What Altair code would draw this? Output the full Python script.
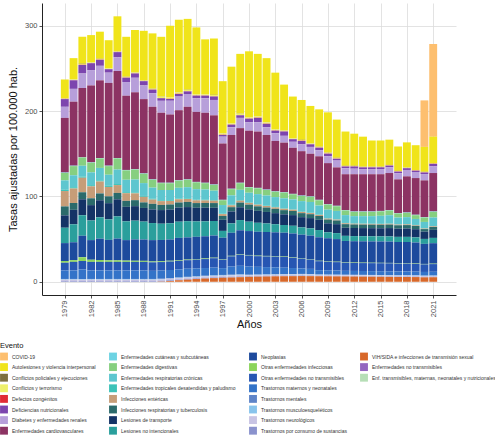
import altair as alt
import pandas as pd

anios = list(range(1979, 2022))
marcas_x = [1979, 1982, 1985, 1988, 1991, 1994, 1997, 2000, 2003, 2006, 2009, 2012, 2015, 2018, 2021]
marcas_y = [0, 100, 200, 300]

# Tasas por evento, 1979-2021 (una cifra por año)
covid = [0, 0, 0, 0, 0, 0, 0, 0, 0, 0, 0,
         0, 0, 0, 0, 0, 0, 0, 0, 0, 0,
         0, 0, 0, 0, 0, 0, 0, 0, 0, 0,
         0, 0, 0, 0, 0, 0, 0, 0, 0, 0, 54.5, 108.6]
autolesiones = [21.7, 24.7, 31.7, 31.7, 31.7, 32.7, 40.7, 46.7, 49.7, 57.7, 64.7,
                70, 84, 85, 83, 78, 64, 66, 61, 66, 70,
                77, 73, 75, 66, 53.7, 48.7, 46.7, 43.7, 43.7, 47.2,
                44.7, 40.1, 37.6, 35.1, 30.6, 30.6, 29.6, 28.6, 29.4, 29.1, 29.1, 31.1]
conflictos_policiales = [0.2, 0.2, 0.2, 0.2, 0.2, 0.2, 0.2, 0.2, 0.2, 0.2, 0.2,
                         0.2, 0.2, 0.2, 0.2, 0.2, 0.2, 0.2, 0.2, 0.2, 0.2,
                         0.2, 0.2, 0.2, 0.2, 0.2, 0.2, 0.2, 0.2, 0.2, 0.2,
                         0.2, 0.2, 0.2, 0.2, 0.2, 0.2, 0.2, 0.2, 0.2, 0.2, 0.2, 0.2]
conflictos_terrorismo = [0.8, 0.8, 0.8, 0.8, 0.8, 0.8, 0.8, 0.8, 0.8, 0.8, 0.8,
                         1.5, 1.5, 1.5, 1.5, 1.5, 1.5, 1.5, 1.5, 1.5, 1.5,
                         1.5, 1.5, 1.5, 1.5, 0.8, 0.8, 0.8, 0.8, 0.8, 0.8,
                         0.8, 0.4, 0.4, 0.4, 0.4, 0.4, 0.4, 0.4, 0.4, 0.4, 0.4, 0.4]
defectos = [0.3, 0.3, 0.3, 0.3, 0.3, 0.3, 0.3, 0.3, 0.3, 0.3, 0.3,
            0.3, 0.3, 0.3, 0.3, 0.3, 0.3, 0.3, 0.3, 0.3, 0.3,
            0.3, 0.3, 0.3, 0.3, 0.3, 0.3, 0.3, 0.3, 0.3, 0.3,
            0.3, 0.3, 0.3, 0.3, 0.3, 0.3, 0.3, 0.3, 0.3, 0.3, 0.3, 0.3]
deficiencias = [9, 10, 10, 8, 7, 4, 6, 5, 5, 5, 4,
                3, 2, 3, 3, 3, 3, 4, 2, 3, 3,
                4, 5, 4, 3, 5, 3, 4, 3, 3, 3,
                2, 2, 2.5, 2, 2, 2, 2, 2, 2, 1.4, 1.8, 2.8]
diabetes = [13, 15, 17, 18, 17, 12, 16, 16, 17, 16, 16,
            14, 16, 16, 15, 16, 17, 18, 8, 9, 12,
            10, 11, 9, 9, 8, 7, 8, 8, 7, 8,
            8, 7, 6.5, 6, 6, 6, 6.6, 7, 7.5, 7.1, 7.4, 7.8]
cardiovasculares = [64, 75, 81, 90, 91, 97, 102, 87, 90, 87, 85,
                    82, 80, 82, 85, 82, 82, 81, 66, 63, 64,
                    66, 66, 64, 59, 58, 54, 52, 50, 51, 48,
                    45, 42, 43.6, 43.6, 43.6, 43, 43.4, 39.5, 42.3, 43, 43, 45]
cutaneas = [0.5, 0.5, 0.5, 0.5, 0.5, 0.5, 0.5, 0.5, 0.5, 0.5, 0.5,
            0.5, 0.5, 0.5, 0.5, 0.5, 0.5, 0.5, 0.5, 0.5, 0.5,
            0.5, 0.5, 0.5, 0.5, 0.5, 0.5, 0.5, 0.5, 0.5, 0.5,
            0.5, 0.5, 0.5, 0.5, 0.5, 0.5, 0.5, 0.5, 0.5, 0.5, 0.5, 0.5]
digestivas = [8.7, 10.7, 9.7, 11.3, 11.1, 10.1, 13, 11, 11.7, 10.9, 9.2,
              8, 8, 8.4, 8.7, 8, 7.4, 6.8, 5.6, 7.2, 7.8,
              6.2, 6.8, 6.5, 6.3, 6.7, 6.0, 6.0, 6.0, 6.2, 6.0,
              5.5, 5.4, 5, 5, 5, 5.2, 5.5, 4.8, 5, 4.4, 5.2, 6.6]
resp_cronicas = [11, 14, 12.5, 15, 14.5, 13, 17, 14.5, 15, 15, 13,
                 12, 12, 12.5, 13, 12.3, 12, 11, 10, 11, 12,
                 11.3, 11.8, 11.6, 11.5, 11.8, 11.6, 12.2, 12.5, 10.5, 10,
                 9.8, 9.2, 8.5, 8.6, 8.7, 9.2, 9.7, 7.8, 8.1, 7, 7.5, 10]
tropicales = [1.5, 1.5, 1.5, 1.4, 1.4, 1.3, 1.2, 1.2, 1.2, 1.1, 1.0,
              1.0, 0.9, 0.9, 0.8, 0.8, 0.8, 0.7, 0.6, 0.7, 0.7,
              0.6, 0.6, 0.6, 0.6, 0.5, 0.5, 0.5, 0.5, 0.5, 0.5,
              0.4, 0.4, 0.4, 0.4, 0.4, 0.4, 0.4, 0.4, 0.4, 0.4, 0.3, 0.4]
entericas = [18, 17, 17, 14, 14, 11, 9.2, 9, 8, 6.5, 5,
             4.5, 4, 3.8, 3.5, 3.2, 3, 2.8, 2.2, 2.2, 2.2,
             2.0, 1.9, 1.8, 1.7, 1.6, 1.5, 1.4, 1.3, 1.2, 1.1,
             1.0, 1.0, 0.9, 0.9, 0.9, 0.9, 0.9, 0.8, 0.8, 0.7, 0.6, 0.7]
inf_respiratorias = [10.5, 8, 8, 8, 8, 8, 7.5, 7, 7, 6.5, 6.5,
                     6, 6, 6, 6, 5.5, 5.5, 5.5, 4.5, 5, 5.5,
                     5.5, 5.3, 5.2, 5.0, 4.9, 4.8, 4.7, 4.6, 4.5, 4.4,
                     4.3, 4.2, 4.1, 4.1, 4.1, 4.1, 4.1, 4.0, 4.0, 3.9, 3.0, 3.4]
transporte = [14.5, 17, 19, 18, 20, 19, 20, 17, 17, 16, 16,
              16, 16, 16.5, 16.5, 16, 16, 15.5, 13, 14, 15,
              14.5, 14, 13.5, 13, 12.5, 12.5, 12, 12, 12, 10.5,
              10.5, 9.5, 9.5, 9.5, 9.5, 9.5, 9.8, 9.6, 9.8, 9.6, 8.5, 9.4]
no_intencionales = [18, 21, 24, 23, 25, 24, 26, 22, 22, 21, 20,
                    19, 19, 19, 19, 18, 17.5, 17, 8, 11, 12,
                    11, 10.5, 10, 9.5, 9, 9, 8.5, 8.5, 8.5, 7,
                    7, 6, 6, 6, 6, 6, 6, 6, 6, 6, 5.8, 6.2]
neoplasias = [21, 21, 25, 23, 25, 24, 25.5, 24, 25, 25, 25,
              25, 25, 26, 26, 26, 26, 26, 25, 27, 28,
              28, 28, 28, 28, 28, 28, 27.5, 27.5, 27.5, 27,
              26.5, 25, 25, 25, 25, 25, 25, 24.8, 24.8, 24.5, 23.5, 24]
otras_infecciosas = [2, 2, 4.5, 2.5, 2.2, 1.8, 1.8, 1.5, 1.3, 1.2, 1.0,
                     0.9, 0.8, 0.8, 0.7, 0.7, 0.7, 0.6, 0.6, 0.6, 0.6,
                     0.6, 0.6, 0.6, 0.5, 0.5, 0.5, 0.5, 0.5, 0.5, 0.5,
                     0.5, 0.5, 0.5, 0.5, 0.5, 0.5, 0.5, 0.5, 0.5, 0.5, 0.5, 0.5]
otras_no_transmisibles = [9, 10, 10, 10, 10, 10, 10, 10, 10, 10, 10,
                          10, 10, 10, 10, 10.5, 10.5, 11, 10, 12, 13,
                          13, 12.5, 12.5, 12.5, 12.5, 12, 11.5, 11, 10.5, 10,
                          9.8, 9.5, 9.3, 9.3, 9.3, 9.3, 9.3, 9.2, 9.2, 9.1, 8.9, 9]
maternos = [10, 10, 11, 10, 10, 10, 10, 10, 10, 10, 9.5,
            9.5, 9.5, 9.5, 9.5, 9, 9, 9, 8, 9.5, 10,
            9.5, 9, 8.5, 8, 7.5, 7, 6.5, 6, 5, 5,
            4.8, 4.5, 4.5, 4.5, 4.5, 4.5, 4.5, 4.4, 4.4, 4.3, 4.2, 4.3]
mentales = [0.4, 0.4, 0.4, 0.4, 0.4, 0.4, 0.4, 0.4, 0.4, 0.4, 0.4,
            0.4, 0.4, 0.4, 0.4, 0.4, 0.4, 0.4, 0.4, 0.4, 0.4,
            0.3, 0.3, 0.3, 0.3, 0.3, 0.3, 0.3, 0.3, 0.3, 0.3,
            0.3, 0.3, 0.3, 0.3, 0.3, 0.3, 0.3, 0.3, 0.3, 0.3, 0.3, 0.3]
musculoesqueleticos = [0.5, 0.5, 0.5, 0.5, 0.5, 0.5, 0.5, 0.5, 0.5, 0.5, 0.5,
                       0.5, 0.5, 0.5, 0.5, 0.5, 0.5, 0.5, 0.5, 0.5, 0.5,
                       0.4, 0.4, 0.4, 0.4, 0.4, 0.4, 0.4, 0.4, 0.3, 0.3,
                       0.3, 0.3, 0.3, 0.3, 0.3, 0.3, 0.3, 0.3, 0.3, 0.3, 0.3, 0.3]
neurologicos = [1.6, 1.6, 1.6, 1.6, 1.6, 1.6, 1.6, 1.6, 1.6, 1.6, 1.6,
                1.6, 1.6, 1.6, 1.6, 1.6, 1.6, 1.6, 1.6, 1.6, 1.6,
                1.2, 1.2, 1.2, 1.2, 1.2, 1.2, 1.2, 1.2, 1.0, 1.0,
                1.0, 1.0, 1.0, 1.0, 1.0, 1.0, 1.0, 1.0, 1.0, 1.0, 1.0, 1.0]
sustancias = [0.8, 0.8, 0.8, 0.8, 0.8, 0.8, 0.8, 0.8, 0.8, 0.8, 0.8,
              0.8, 0.8, 0.8, 0.8, 0.8, 0.8, 0.8, 0.8, 0.8, 0.8,
              0.6, 0.6, 0.6, 0.6, 0.6, 0.6, 0.6, 0.6, 0.5, 0.5,
              0.5, 0.5, 0.5, 0.5, 0.5, 0.5, 0.5, 0.5, 0.5, 0.5, 0.5, 0.5]
vih = [0, 0, 0, 0, 0, 0, 0, 0, 0, 0, 0,
       0.3, 1.0, 1.8, 2.5, 3.2, 3.8, 4.3, 4.7, 5.0, 5.4,
       5.8, 6.0, 6.2, 6.4, 6.5, 6.6, 6.7, 6.6, 6.5, 6.4,
       6.3, 6.2, 6.1, 6.0, 5.9, 5.8, 5.7, 5.6, 5.6, 5.5, 5.2, 5.3]

# Eventos en el orden de la leyenda, con su color
eventos = [
    "COVID-19", "Autolesiones y violencia interpersonal", "Conflictos policiales y ejecuciones",
    "Conflictos y terrorismo", "Defectos congénitos", "Deficiencias nutricionales",
    "Diabetes y enfermedades renales", "Enfermedades cardiovasculares",
    "Enfermedades cutáneas y subcutáneas", "Enfermedades digestivas",
    "Enfermedades respiratorias crónicas", "Enfermedades tropicales desatendidas y paludismo",
    "Infecciones entéricas", "Infecciones respiratorias y tuberculosis",
    "Lesiones de transporte", "Lesiones no intencionales",
    "Neoplasias", "Otras enfermedades infecciosas", "Otras enfermedades no transmisibles",
    "Trastornos maternos y neonatales", "Trastornos mentales", "Trastornos musculoesqueléticos",
    "Trastornos neurológicos", "Trastornos por consumo de sustancias",
    "VIH/SIDA e infecciones de transmisión sexual", "Enfermedades no transmisibles",
    "Enf. transmisibles, maternas, neonatales y nutricionales",
]
colores = [
    "#fdbf6f", "#f0e41a", "#7d7040", "#eef06a", "#e02b35", "#7c45ae", "#b79fda", "#8c3363",
    "#6dd3e3", "#86cf80", "#5dc6cf", "#3cc2b8", "#c69d78", "#2b6a6b", "#143366", "#2a9f9c",
    "#1d4a9d", "#8bd45b", "#2756b3", "#3373c8", "#5e84c8", "#88c4ec", "#c8c4e4", "#8a92cd",
    "#d8682a", "#9466c0", "#b6deb6",
]

series = {
    "COVID-19": covid,
    "Autolesiones y violencia interpersonal": autolesiones,
    "Conflictos policiales y ejecuciones": conflictos_policiales,
    "Conflictos y terrorismo": conflictos_terrorismo,
    "Defectos congénitos": defectos,
    "Deficiencias nutricionales": deficiencias,
    "Diabetes y enfermedades renales": diabetes,
    "Enfermedades cardiovasculares": cardiovasculares,
    "Enfermedades cutáneas y subcutáneas": cutaneas,
    "Enfermedades digestivas": digestivas,
    "Enfermedades respiratorias crónicas": resp_cronicas,
    "Enfermedades tropicales desatendidas y paludismo": tropicales,
    "Infecciones entéricas": entericas,
    "Infecciones respiratorias y tuberculosis": inf_respiratorias,
    "Lesiones de transporte": transporte,
    "Lesiones no intencionales": no_intencionales,
    "Neoplasias": neoplasias,
    "Otras enfermedades infecciosas": otras_infecciosas,
    "Otras enfermedades no transmisibles": otras_no_transmisibles,
    "Trastornos maternos y neonatales": maternos,
    "Trastornos mentales": mentales,
    "Trastornos musculoesqueléticos": musculoesqueleticos,
    "Trastornos neurológicos": neurologicos,
    "Trastornos por consumo de sustancias": sustancias,
    "VIH/SIDA e infecciones de transmisión sexual": vih,
}

# Long table; the first event in the legend sits on top of each bar
filas = []
for nombre, valores in series.items():
    assert len(valores) == len(anios), nombre
    orden = len(eventos) - eventos.index(nombre)
    for anio, v in zip(anios, valores):
        filas.append({"anio": anio, "evento": nombre, "valor": v, "orden": orden})
df = pd.DataFrame(filas)

# Legend fills 4 columns top to bottom, 8 rows each; the last column is
# padded with blank entries so every column holds eight slots
dominio = list(eventos) + [" " * k for k in range(1, 6)]
rango = list(colores) + ["#ffffff"] * 5

FUENTE = "Liberation Sans"

chart = (
    alt.Chart(df)
    .transform_stack(
        stack="valor", groupby=["anio"], as_=["y0", "y1"],
        sort=[alt.SortField("orden", order="ascending")],
    )
    .transform_calculate(x0="datum.anio - 0.45", x1="datum.anio + 0.45")
    .mark_rect()
    .encode(
        x=alt.X(
            "x0:Q",
            scale=alt.Scale(domain=[1976.4, 2023.6], nice=False, zero=False),
            axis=alt.Axis(
                values=marcas_x, format="d", labelAngle=270, title="Años",
                labelFontSize=7.5, titleFontSize=11, titlePadding=2,
            ),
        ),
        x2="x1:Q",
        y=alt.Y(
            "y0:Q",
            scale=alt.Scale(domain=[-15.5, 326.6], nice=False, zero=False),
            axis=alt.Axis(
                values=marcas_y, title="Tasas ajustadas por 100.000 hab.",
                labelFontSize=7.5, titleFontSize=11, titlePadding=6,
            ),
        ),
        y2="y1:Q",
        color=alt.Color(
            "evento:N",
            scale=alt.Scale(domain=dominio, range=rango),
            legend=alt.Legend(
                title="Evento", orient="none", legendX=-42, legendY=339,
                direction="vertical", columns=4, symbolLimit=60,
                symbolType="square", symbolSize=62, symbolStrokeWidth=0,
                labelFontSize=5, labelFont=FUENTE, labelColor="#333333",
                titleFontSize=7.5, titleFont=FUENTE, titleFontWeight="normal",
                titleColor="#111111", titlePadding=3, rowPadding=2.6,
                columnPadding=13, labelOffset=4, labelLimit=250, gridAlign="each",
            ),
        ),
    )
    .properties(
        width=414, height=292,
        autosize=alt.AutoSizeParams(type="none"),
        padding={"left": 42, "top": 3, "right": 39, "bottom": 145},
    )
    .configure_view(stroke=None)
    .configure_axis(
        labelFont=FUENTE, titleFont=FUENTE, labelColor="#4d4d4d", titleColor="#111111",
        titleFontWeight="normal", domainColor="#222222", domainWidth=1,
        tickColor="#555555", tickSize=3, gridColor="#dcdcdc", gridWidth=0.8,
        labelPadding=2,
    )
)

chart.save("out.html", embed_options={"renderer": "svg", "actions": False})
